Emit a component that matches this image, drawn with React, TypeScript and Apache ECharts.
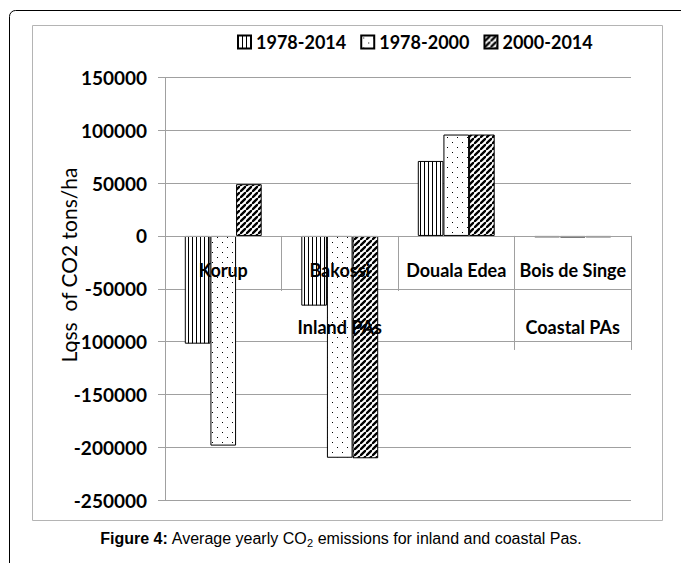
import React, { useEffect, useRef } from 'react';
import * as echarts from 'echarts';

const categories = ['Korup', 'Bakossi', 'Douala Edea', 'Bois de Singe'];
const groupLabels = ['', 'Inland PAs', '', 'Coastal PAs'];
const seriesNames = ['1978-2014', '1978-2000', '2000-2014'];
const values19782014 = [-102000, -66000, 71000, -1300];
const values19782000 = [-198500, -210000, 96000, -1500];
const values20002014 = [49000, -210500, 96000, -1300];
const yMin = -250000;
const yMax = 150000;
const yInterval = 50000;
const yTitle = 'Loss  of CO2 tons/ha';

function makePattern(kind: string): HTMLCanvasElement {
  const c = document.createElement('canvas');
  const s = kind === 'vlines' ? 4 : kind === 'dots' ? 10 : 6;
  c.width = s;
  c.height = s;
  const ctx = c.getContext('2d')!;
  ctx.fillStyle = '#ffffff';
  ctx.fillRect(0, 0, s, s);
  ctx.fillStyle = '#000000';
  ctx.strokeStyle = '#000000';
  if (kind === 'vlines') {
    ctx.fillRect(0, 0, 1, s);
  } else if (kind === 'dots') {
    ctx.fillRect(2, 2, 1, 1);
    ctx.fillRect(7, 7, 1, 1);
  } else {
    ctx.lineWidth = 2.3;
    ctx.beginPath();
    ctx.moveTo(-1, s + 1);
    ctx.lineTo(s + 1, -1);
    ctx.moveTo(-2, 1);
    ctx.lineTo(1, -2);
    ctx.moveTo(s - 1, s + 2);
    ctx.lineTo(s + 2, s - 1);
    ctx.stroke();
  }
  return c;
}

export default function App() {
  const ref = useRef<HTMLDivElement>(null);
  useEffect(() => {
    if (!ref.current) return;
    const chart = echarts.init(ref.current, undefined, { renderer: 'svg' });
    const pats = [makePattern('vlines'), makePattern('dots'), makePattern('diag')];
    const vals = [values19782014, values19782000, values20002014];
    const gray = '#a0a0a0';
    const catStyle = { fontFamily: 'Lato', fontSize: 18, fontWeight: 'bold', fill: '#000' };
    const baseGraphic: any[] = [
      {
        type: 'rect',
        shape: { x: 9.5, y: 10.5, width: 800, height: 700, r: 6 },
        style: { fill: 'none', stroke: '#000', lineWidth: 1 },
        silent: true,
      },
      {
        type: 'rect',
        shape: { x: 32.5, y: 25.5, width: 630, height: 495 },
        style: { fill: 'none', stroke: '#b4b4b4', lineWidth: 1 },
        silent: true,
      },
      {
        type: 'text',
        x: 68,
        y: 265,
        rotation: Math.PI / 2,
        style: {
          text: yTitle,
          fontFamily: 'Lato',
          fontSize: 21,
          fill: '#000',
          align: 'center',
          verticalAlign: 'middle',
          textAlign: 'center',
          textVerticalAlign: 'middle',
        },
      },
      {
        type: 'text',
        x: 341,
        y: 538,
        style: {
          text: '{b|Figure 4:}{n| Average yearly CO}{s|2}{n| emissions for inland and coastal Pas.}',
          align: 'center',
          verticalAlign: 'middle',
          textAlign: 'center',
          textVerticalAlign: 'middle',
          rich: {
            b: { fontFamily: 'Liberation Sans', fontSize: 16, fontWeight: 'bold', fill: '#000', color: '#000' },
            n: { fontFamily: 'Liberation Sans', fontSize: 16, fill: '#000', color: '#000' },
            s: { fontFamily: 'Liberation Sans', fontSize: 11, fill: '#000', color: '#000', padding: [9, 0, 0, 0] },
          },
        },
      },
    ];
    chart.setOption({
      animation: false,
      backgroundColor: '#fff',
      legend: {
        data: seriesNames,
        left: 232,
        top: 28,
        icon: 'rect',
        itemWidth: 13,
        itemHeight: 13,
        itemGap: 14,
        textStyle: { fontFamily: 'Lato', fontSize: 18, fontWeight: 'bold', color: '#000' },
      },
      grid: { left: 165, right: 50, top: 77.5, bottom: 63, containLabel: false, outerBoundsMode: 'none' },
      xAxis: [
        {
          type: 'category',
          data: categories,
          position: 'bottom',
          z: 5,
          axisLine: { show: true, onZero: true, onZeroAxisIndex: 0, lineStyle: { color: gray } },
          axisTick: { show: true, interval: 0, length: 55, lineStyle: { color: gray } },
          axisLabel: { show: false },
          splitLine: { show: false },
        },
        {
          type: 'category',
          data: groupLabels,
          position: 'bottom',
          z: 5,
          axisLine: { show: false, onZero: true, onZeroAxisIndex: 0 },
          axisTick: {
            show: true,
            interval: (i: number) => i === 0 || i === 3,
            length: 114,
            lineStyle: { color: gray },
          },
          axisLabel: { show: false },
          splitLine: { show: false },
        },
      ],
      yAxis: {
        type: 'value',
        min: yMin,
        max: yMax,
        interval: yInterval,
        axisLine: { show: true, lineStyle: { color: gray } },
        axisTick: { show: true, length: 7, lineStyle: { color: gray } },
        axisLabel: {
          margin: 18,
          fontFamily: 'Lato',
          fontSize: 19,
          fontWeight: 'bold',
          color: '#000',
          formatter: (v: number) => String(v),
        },
        splitLine: { show: true, lineStyle: { color: gray } },
      },
      series: seriesNames.map((name, i) => ({
        name,
        type: 'bar',
        xAxisIndex: 0,
        data: vals[i],
        barGap: '0%',
        barCategoryGap: '34%',
        itemStyle: {
          color: { image: pats[i], repeat: 'repeat' },
          borderColor: '#000',
          borderWidth: 1,
        },
      })),
      graphic: baseGraphic,
    });

    const y0 = chart.convertToPixel({ yAxisIndex: 0 }, 0) as number;
    const labelEls: any[] = [];
    categories.forEach((c, i) => {
      const x = chart.convertToPixel({ xAxisIndex: 0 }, i) as number;
      labelEls.push({
        type: 'text',
        x,
        y: y0 + 34,
        z: 10,
        style: { text: c, ...catStyle, align: 'center', verticalAlign: 'middle', textAlign: 'center', textVerticalAlign: 'middle' },
      });
    });
    groupLabels.forEach((g, i) => {
      if (!g) return;
      const x = chart.convertToPixel({ xAxisIndex: 1 }, i) as number;
      labelEls.push({
        type: 'text',
        x,
        y: y0 + 91,
        z: 10,
        style: { text: g, ...catStyle, align: 'center', verticalAlign: 'middle', textAlign: 'center', textVerticalAlign: 'middle' },
      });
    });
    chart.setOption({ graphic: [...baseGraphic, ...labelEls] });

    return () => chart.dispose();
  }, []);
  return (
    <div
      ref={ref}
      style={{ position: 'absolute', left: 0, top: 0, width: 681, height: 563 }}
    />
  );
}
